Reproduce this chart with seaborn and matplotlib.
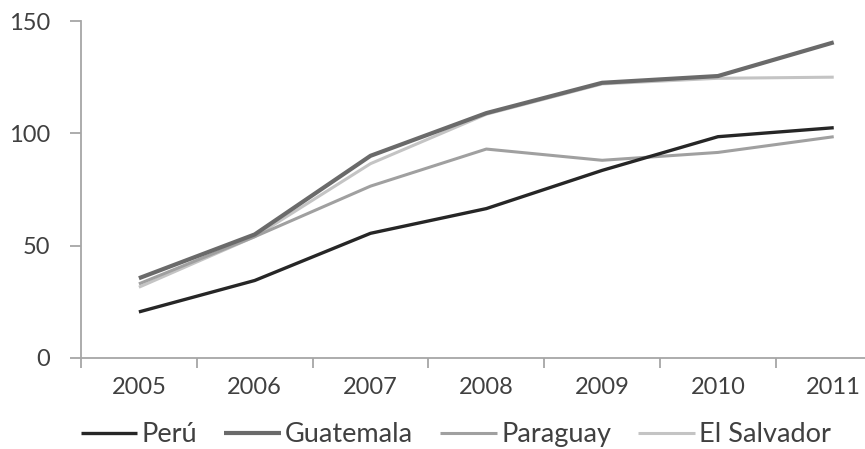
import matplotlib
matplotlib.use("Agg")
import matplotlib.pyplot as plt
import seaborn as sns
import pandas as pd

years = ["2005", "2006", "2007", "2008", "2009", "2010", "2011"]
peru = [20.5, 34.5, 55.5, 66.5, 83.5, 98.5, 102.5]
guatemala = [35.5, 55.0, 90.0, 109.0, 122.5, 125.5, 140.5]
paraguay = [33.0, 54.0, 76.5, 93.0, 88.0, 91.5, 98.5]
el_salvador = [31.5, 54.0, 86.5, 108.5, 122.0, 124.5, 125.0]

series = {
    "Perú": peru,
    "Guatemala": guatemala,
    "Paraguay": paraguay,
    "El Salvador": el_salvador,
}
colors = {"Perú": "#262626", "Guatemala": "#6a6a6a", "Paraguay": "#a0a0a0", "El Salvador": "#c4c4c4"}
widths = {"Perú": 2.4, "Guatemala": 3.0, "Paraguay": 2.2, "El Salvador": 2.2}
zorders = {"Perú": 5, "Guatemala": 4, "Paraguay": 3, "El Salvador": 2}

sns.set_theme(style="white")
plt.rcParams["font.family"] = ["Lato", "DejaVu Sans"]
text_color = "#404040"

fig = plt.figure(figsize=(8.65, 4.49), dpi=100)
ax = fig.add_axes([81 / 865, 1 - 358 / 449, 1 - 81 / 865, (358 - 21) / 449])

df = pd.DataFrame({"year": years * 4,
                   "pos": list(range(len(years))) * 4,
                   "value": peru + guatemala + paraguay + el_salvador,
                   "country": sum([[c] * len(years) for c in series], [])})

for name in series:
    sub = df[df["country"] == name]
    sns.lineplot(data=sub, x="pos", y="value", ax=ax, color=colors[name],
                 linewidth=widths[name], zorder=zorders[name], label=name,
                 solid_capstyle="butt")
if ax.legend_ is not None:
    ax.legend_.remove()

ax.set_xlim(-0.5, 6.27)
ax.set_ylim(0, 150)
ax.set_xticks(range(len(years)))
ax.set_xticklabels(years)
ax.set_xticks([i + 0.5 for i in range(-1, 6)], minor=True)
ax.set_yticks([0, 50, 100, 150])
ax.set_xlabel("")
ax.set_ylabel("")

for s in ["top", "right"]:
    ax.spines[s].set_visible(False)
for s in ["left", "bottom"]:
    ax.spines[s].set_color("#a6a6a6")
    ax.spines[s].set_linewidth(1.3)

ax.tick_params(axis="x", which="major", length=0, pad=14, labelsize=17, colors=text_color)
ax.tick_params(axis="x", which="minor", bottom=True, length=7, width=1.3, color="#a6a6a6")
ax.tick_params(axis="y", which="major", left=True, length=8, width=1.3, color="#a6a6a6",
               pad=14, labelsize=17, labelcolor=text_color)

leg_handles, leg_labels = ax.get_legend_handles_labels()
fig.legend(leg_handles, leg_labels, loc="center", bbox_to_anchor=(0.527, 0.032),
           ncol=4, frameon=False, fontsize=19.5, handlelength=2.1, handletextpad=0.15,
           columnspacing=1.0, labelcolor=text_color)

fig.savefig("out.png", dpi=100)
